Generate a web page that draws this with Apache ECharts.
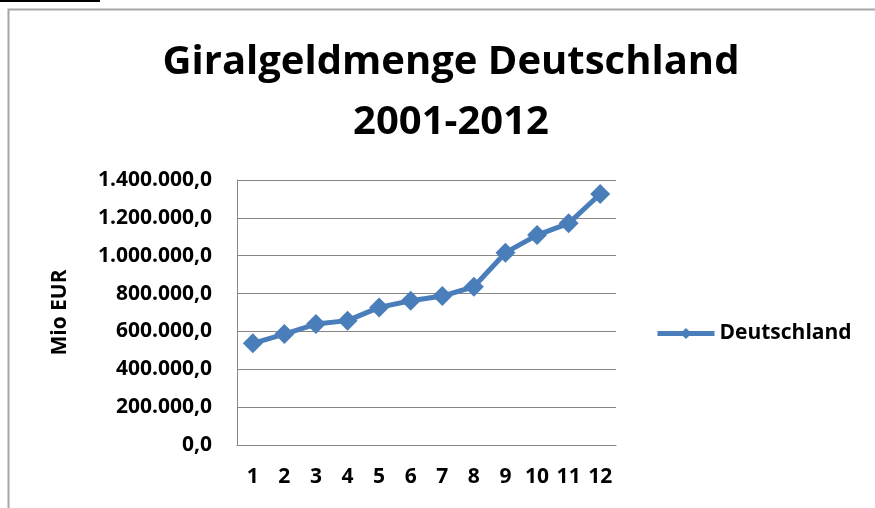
<!DOCTYPE html>
<html>
<head>
<meta charset="utf-8">
<script src="https://cdn.jsdelivr.net/npm/echarts@6/dist/echarts.min.js"></script>
<style>
html,body{margin:0;padding:0;background:#fff;}
#c{width:875px;height:508px;}
</style>
</head>
<body>
<div id="c"></div>
<script>
const categories = ['1','2','3','4','5','6','7','8','9','10','11','12'];
const seriesName = 'Deutschland';
const values = [537000, 586000, 639000, 657000, 727000, 762000, 787000, 836000, 1016000, 1109000, 1171000, 1326000];
const titleText = 'Giralgeldmenge Deutschland\n2001-2012';
const yAxisName = 'Mio EUR';

const FONT = '"Open Sans", sans-serif';
function fmt(v){
  const s = Math.round(v).toString().replace(/\B(?=(\d{3})+(?!\d))/g, '.');
  return s + ',0';
}
const chart = echarts.init(document.getElementById('c'), null, {renderer:'canvas'});
chart.setOption({
  animation:false,
  backgroundColor:'#fff',
  graphic:[
    {type:'rect', shape:{x:8.5, y:9.5, width:900, height:600}, style:{fill:'none', stroke:'#a6a6a6', lineWidth:2}, silent:true},
    {type:'rect', shape:{x:0, y:0, width:100, height:2}, style:{fill:'#000'}, silent:true}
  ],
  title:{
    text:titleText,
    left:446, top:28, textAlign:'center',
    textStyle:{fontFamily:FONT, fontSize:40, fontWeight:'bold', color:'#000', lineHeight:60}
  },
  legend:{
    data:[seriesName], left:655, top:323, padding:0, itemWidth:57, itemHeight:14, itemGap:4,
    lineStyle:{width:5},
    textStyle:{fontFamily:FONT, fontSize:21, fontWeight:'bold', color:'#000'}
  },
  grid:{left:237, right:259, top:180, bottom:63, containLabel:false},
  xAxis:{
    type:'category', data:categories, boundaryGap:true,
    axisLine:{lineStyle:{color:'#868686', width:1}},
    axisTick:{show:false},
    axisLabel:{fontFamily:FONT, fontSize:21, fontWeight:'bold', color:'#000', margin:22, interval:0}
  },
  yAxis:{
    type:'value', min:0, max:1400000, interval:200000,
    name:yAxisName, nameLocation:'middle', nameRotate:90, nameGap:166,
    nameTextStyle:{fontFamily:FONT, fontSize:21, fontWeight:'bold', color:'#000'},
    axisLine:{show:true, lineStyle:{color:'#868686', width:1}},
    axisTick:{show:false},
    splitLine:{lineStyle:{color:'#868686', width:1}},
    axisLabel:{fontFamily:FONT, fontSize:21, fontWeight:'bold', color:'#000', margin:25, formatter:fmt}
  },
  series:[{
    name:seriesName, type:'line', data:values,
    symbol:'diamond', symbolSize:20,
    lineStyle:{color:'#4a7ebb', width:5},
    itemStyle:{color:'#4a7ebb'}
  }]
});
</script>
</body>
</html>
